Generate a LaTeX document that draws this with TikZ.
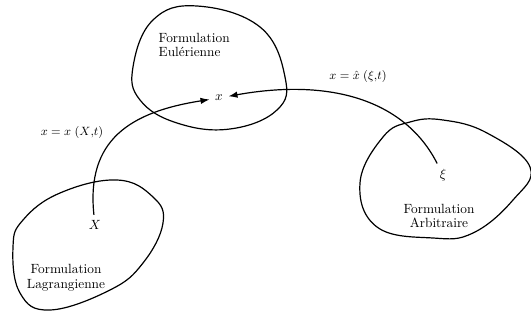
\documentclass[tikz,border=0pt]{standalone}
\usetikzlibrary{arrows.meta}
\begin{document}
\begin{tikzpicture}[
  x=0.75pt, y=-0.75pt,
  >={Latex[length=2.4mm,width=1.7mm]},
  blob/.style={line width=0.9pt},
  lien/.style={->, line width=0.9pt},
  pt/.style={inner sep=4pt},
  titre/.style={align=center},
  eq/.style={font=\small},
]
\useasboundingbox (0,0) rectangle (531,320);

% ---------- domaines ----------
\draw[blob] plot[smooth cycle, tension=0.7] coordinates
  {(197,6) (260,27) (285,77) (277,110) (230,129) (177,123) (140,100) (133,67) (153,20)};
\draw[blob] plot[smooth cycle, tension=0.7] coordinates
  {(117,180) (153,197) (163,223) (143,263) (110,290) (50,310) (20,293) (13,247) (23,220) (60,193)};
\draw[blob] plot[smooth cycle, tension=0.7] coordinates
  {(443,120) (487,133) (530,167) (513,200) (473,233) (433,238) (377,227) (360,183) (383,137) (410,122)};

% ---------- titres ----------
\node[titre, align=left, anchor=west] (euler) at (154,45) {Formulation\\[-1pt]Eulérienne};
\node[titre] (lagr) at (66,278) {Formulation\\[-1pt]Lagrangienne};
\node[titre] (arbi) at (439,216) {Formulation\\[-1pt]Arbitraire};

% ---------- points ----------
\node[pt] (x) at (219,98) {$x$};
\node[pt] (X) at (95,225) {$X$};
\node[pt] (xi) at (443,175) {$\xi$};

% ---------- applications ----------
\draw[lien] (X) .. controls (86,140) and (130,112) .. (x);
\draw[lien] (xi) .. controls (405,100) and (330,78) .. (x);

\node[eq] (lagreq) at (72,133) {$x = x\;(X{,}t)$};
\node[eq] (arbieq) at (358,77) {$x = \hat{x}\;(\xi{,}t)$};

\end{tikzpicture}
\end{document}
